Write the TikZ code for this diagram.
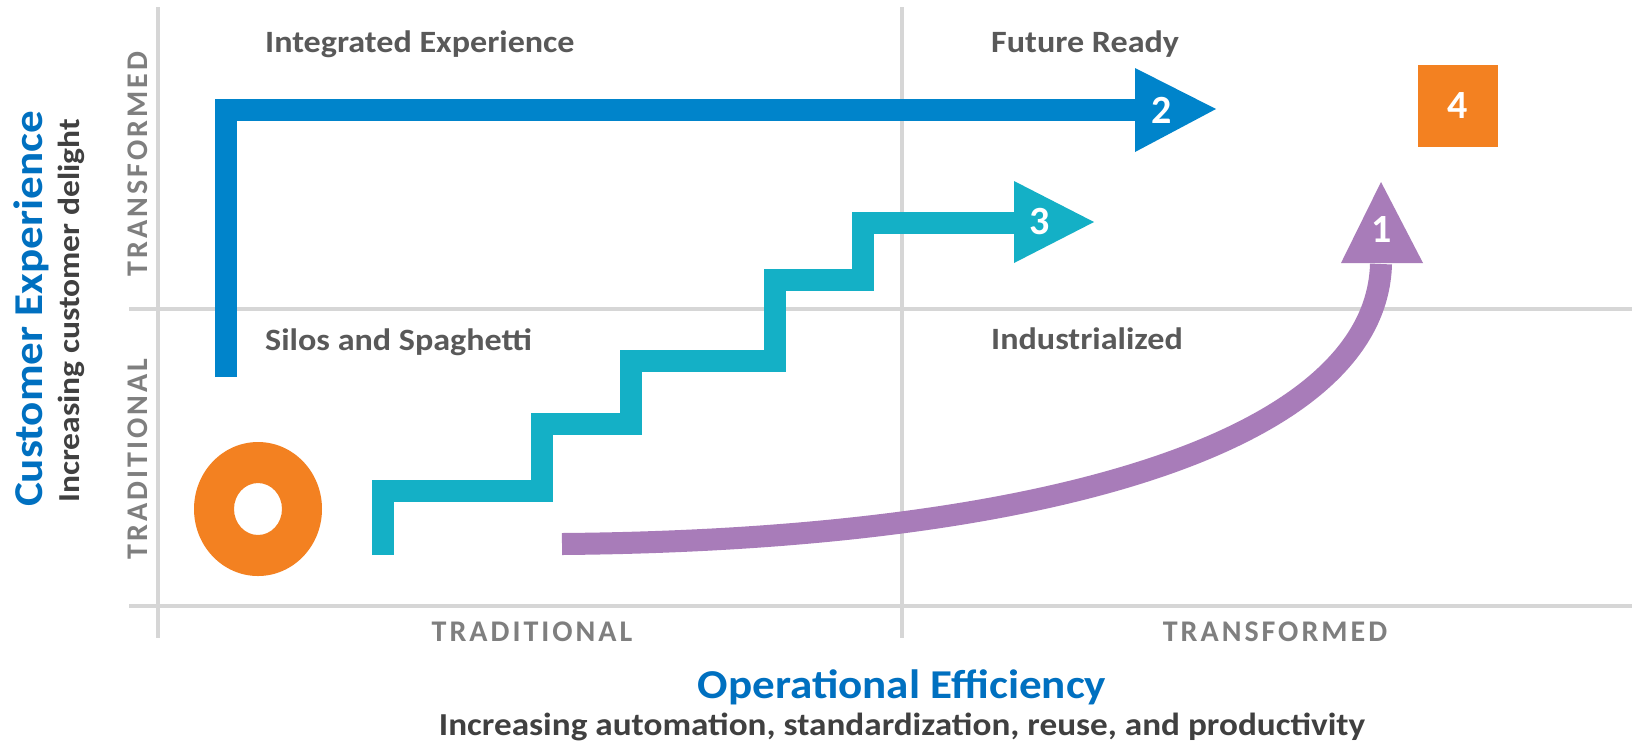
\documentclass[tikz,border=0pt]{standalone}
\usepackage{fontspec}
\setmainfont{Carlito}
\newfontfamily\widefont[FakeStretch=1.1]{Carlito}
\newfontfamily\spacedbold[LetterSpace=10]{Carlito Bold}
\definecolor{gridgray}{HTML}{D6D6D6}
\definecolor{quadgray}{HTML}{595959}
\definecolor{axisgray}{HTML}{7F7F7F}
\definecolor{subdark}{HTML}{404040}
\definecolor{titleblue}{HTML}{0070C0}
\definecolor{arrowblue}{HTML}{0084CB}
\definecolor{arrowteal}{HTML}{14B0C6}
\definecolor{arrowpurple}{HTML}{A87CB9}
\definecolor{ringorange}{HTML}{F38121}
\tikzset{
  gridline/.style={draw=gridgray, line width=4pt},
  quadlabel/.style={anchor=base west, inner sep=0pt, text=quadgray, font=\widefont\fontsize{31}{36}\selectfont\bfseries},
  axislabel/.style={anchor=base, inner sep=0pt, text=axisgray, font=\fontsize{30}{36}\selectfont\spacedbold},
  titlelabel/.style={anchor=base, inner sep=0pt, text=titleblue, font=\widefont\fontsize{41}{50}\selectfont\bfseries},
  sublabel/.style={anchor=base, inner sep=0pt, text=subdark, font=\widefont\fontsize{32}{36}\selectfont\bfseries},
  vsublabel/.style={anchor=base, inner sep=0pt, text=subdark, font=\widefont\fontsize{30.5}{36}\selectfont\bfseries},
  numlabel/.style={inner sep=0pt, text=white, font=\fontsize{40}{48}\selectfont\bfseries},
  pathline/.style={line width=22pt, line join=miter, line cap=butt},
}
\begin{document}
\begin{tikzpicture}[x=1pt,y=-1pt]
\useasboundingbox (0,0) rectangle (1632,740);
\fill[white] (0,0) rectangle (1632,740);
% grid lines
\coordinate (vaxT) at (158,7);
\coordinate (vaxB) at (158,638);
\coordinate (vmidT) at (902,7);
\coordinate (vmidB) at (902,638);
\coordinate (hmidL) at (129,309);
\coordinate (hmidR) at (1632,309);
\coordinate (haxL) at (129,606);
\coordinate (haxR) at (1632,606);
\draw[gridline] (vaxT) -- (vaxB);
\draw[gridline] (vmidT) -- (vmidB);
\draw[gridline] (hmidL) -- (hmidR);
\draw[gridline] (haxL) -- (haxR);
% quadrant labels
\node[quadlabel] (q1) at (265,52) {Integrated Experience};
\node[quadlabel] (q2) at (991,52) {Future Ready};
\node[quadlabel] (q3) at (265,350) {Silos and Spaghetti};
\node[quadlabel] (q4) at (991,349) {Industrialized};
% axis labels
\node[axislabel] (xl1) at (532,641) {TRADITIONAL};
\node[axislabel] (xl2) at (1275,641) {TRANSFORMED};
\node[axislabel, rotate=90] (yl1) at (147,164) {TRANSFORMED};
\node[axislabel, rotate=90] (yl2) at (147,459) {TRADITIONAL};
\node[titlelabel] (xt) at (902,698) {Operational Efficiency};
\node[sublabel] (xs) at (902,735) {Increasing automation, standardization, reuse, and productivity};
\node[titlelabel, rotate=90] (yt) at (42,309) {Customer Experience};
\node[vsublabel, rotate=90] (ys) at (79,311) {Increasing customer delight};
% orange ring
\fill[ringorange, even odd rule] (258,509) ellipse [x radius=64, y radius=67]
  (258,509) ellipse [x radius=24, y radius=26];
% blue arrow 2
\coordinate (b0) at (226,377);
\coordinate (b1) at (226,110);
\coordinate (b2) at (1136,110);
\draw[pathline, arrowblue] (b0) -- (b1) -- (b2);
\fill[arrowblue] (1135,68) -- (1216,109) -- (1135,152) -- cycle;
\node[numlabel] (n2) at (1162,110) {2};
% teal staircase arrow 3
\coordinate (t0) at (383,555);
\coordinate (t1) at (383,491);
\coordinate (t2) at (542,491);
\coordinate (t3) at (542,424);
\coordinate (t4) at (631,424);
\coordinate (t5) at (631,361);
\coordinate (t6) at (775,361);
\coordinate (t7) at (775,280);
\coordinate (t8) at (863,280);
\coordinate (t9) at (863,223);
\coordinate (t10) at (1015,223);
\draw[pathline, arrowteal] (t0) -- (t1) -- (t2) -- (t3) -- (t4) -- (t5) -- (t6) -- (t7) -- (t8) -- (t9) -- (t10);
\fill[arrowteal] (1014,181) -- (1094,222) -- (1014,263) -- cycle;
\node[numlabel] (n3) at (1040,222) {3};
% purple curved arrow 1
\coordinate (p0) at (562,544);
\coordinate (p1) at (1381,264);
\draw[pathline, arrowpurple] (p0) .. controls (1050,540) and (1376,440) .. (p1);
\fill[arrowpurple] (1341,263) -- (1381,182) -- (1423,263) -- cycle;
\node[numlabel] (n1) at (1382,230) {1};
% orange square 4
\node[fill=ringorange, minimum width=80pt, minimum height=82pt, inner sep=0pt, text=white, font=\fontsize{40}{48}\selectfont\bfseries] (sq) at (1458,106) {4};
\end{tikzpicture}
\end{document}
